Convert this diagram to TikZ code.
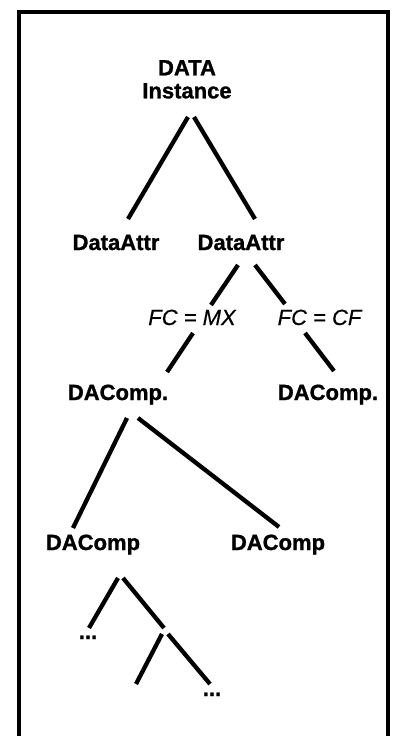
\documentclass[tikz,border=0pt]{standalone}
\usepackage{fontspec}
\setmainfont{Liberation Sans}[BoldFeatures={FakeBold=1.2},ItalicFeatures={FakeBold=0.4}]
\begin{document}
\begin{tikzpicture}[x=1pt,y=-1pt,
  lbl/.style={font=\fontsize{22}{23}\selectfont\bfseries, inner sep=0pt, anchor=base},
  cond/.style={font=\fontsize{22}{24}\selectfont\itshape, inner sep=0pt, anchor=base},
  link/.style={line width=4.3pt, line cap=butt},
  frame/.style={line width=4pt}]
\useasboundingbox (0,0) rectangle (392,736);
% frame
\coordinate (fbl) at (19,742);
\coordinate (ftl) at (19,11.5);
\coordinate (ftr) at (388,11.5);
\coordinate (fbr) at (388,742);
\draw[frame] (fbl) -- (ftl) -- (ftr) -- (fbr);
% nodes
\node[lbl, align=center, anchor=north] (inst) at (187,60) {DATA\\Instance};
\node[lbl] (attrL) at (116,250) {DataAttr};
\node[lbl] (attrR) at (241,250) {DataAttr};
\node[cond] (fcmx) at (192,325) {FC = MX};
\node[cond] (fccf) at (319.5,325) {FC = CF};
\node[lbl] (compL) at (118,400) {DAComp.};
\node[lbl] (compR) at (328,400) {DAComp.};
\node[lbl] (subL) at (93,550) {DAComp};
\node[lbl] (subR) at (278,550) {DAComp};
\node[lbl] (dotsL) at (88,639) {...};
\node[lbl] (dotsR) at (212,696) {...};
% connector end points
\coordinate (i1) at (188,117); \coordinate (aL) at (128,219);
\coordinate (i2) at (194,117); \coordinate (aR) at (255,219);
\coordinate (r1) at (238,265); \coordinate (mxT) at (211,305);
\coordinate (r2) at (255,265); \coordinate (cfT) at (285,304);
\coordinate (mxB) at (193,333); \coordinate (cL) at (167,372);
\coordinate (cfB) at (305,333); \coordinate (cR) at (334,371);
\coordinate (c1) at (127,418); \coordinate (sL) at (73,528);
\coordinate (c2) at (138,418); \coordinate (sR) at (279,527);
\coordinate (t1) at (118,578); \coordinate (dL) at (89,628);
\coordinate (t2) at (123,578); \coordinate (u) at (164,628);
\coordinate (u1) at (162,634); \coordinate (v) at (136,684);
\coordinate (u2) at (168,634); \coordinate (dR) at (210,684);
% connectors
\draw[link] (i1) -- (aL);
\draw[link] (i2) -- (aR);
\draw[link] (r1) -- (mxT);
\draw[link] (r2) -- (cfT);
\draw[link] (mxB) -- (cL);
\draw[link] (cfB) -- (cR);
\draw[link] (c1) -- (sL);
\draw[link] (c2) -- (sR);
\draw[link] (t1) -- (dL);
\draw[link] (t2) -- (u);
\draw[link] (u1) -- (v);
\draw[link] (u2) -- (dR);
\end{tikzpicture}
\end{document}
